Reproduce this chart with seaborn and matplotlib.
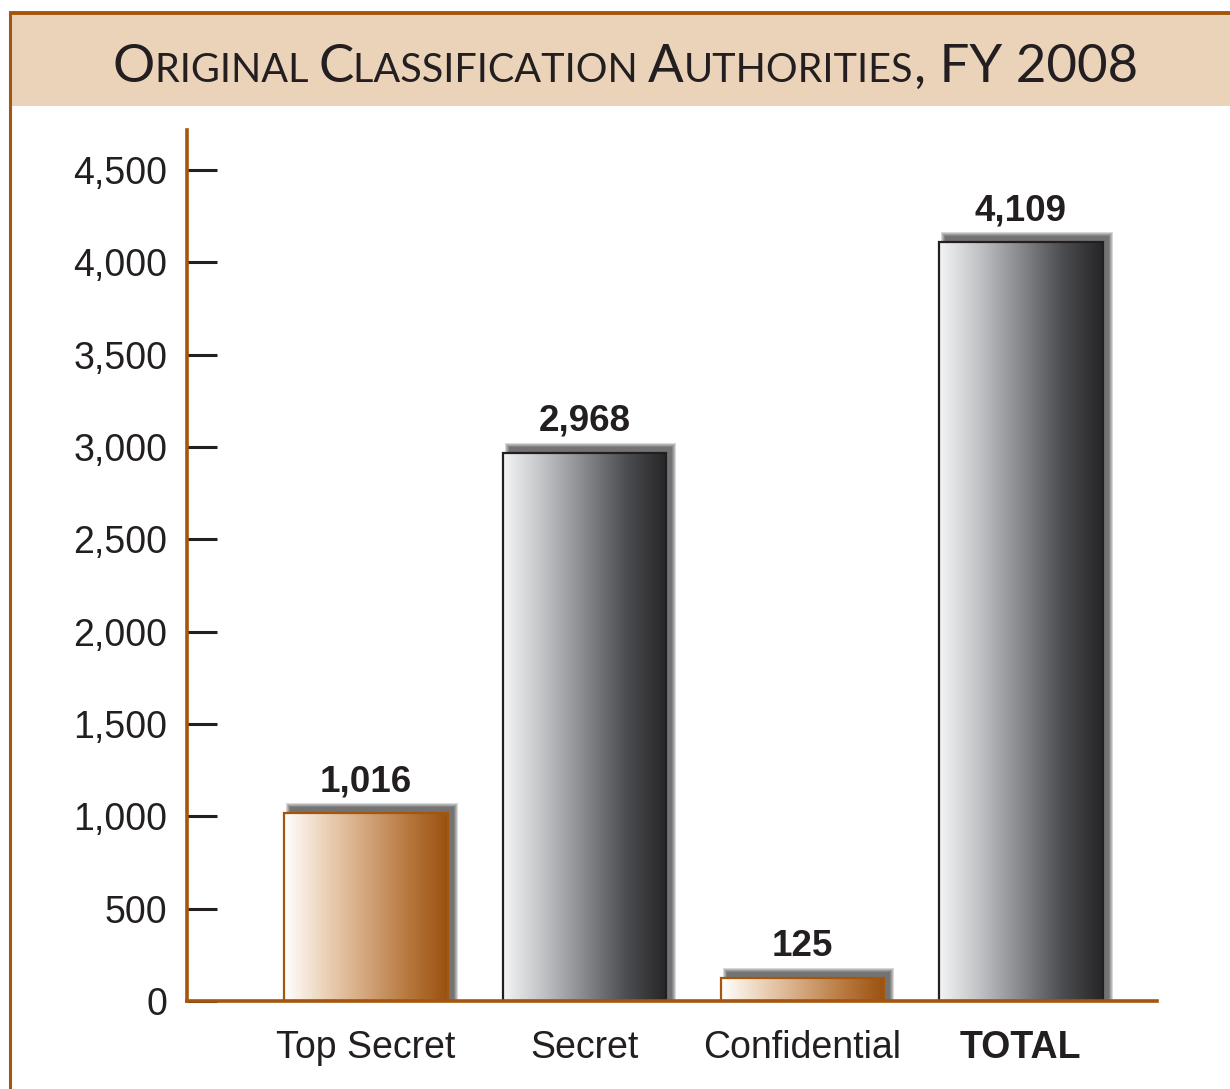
import numpy as np
import pandas as pd
import matplotlib
matplotlib.use("Agg")
import matplotlib.pyplot as plt
import seaborn as sns
from matplotlib.colors import LinearSegmentedColormap
from matplotlib.patches import Rectangle
from matplotlib.lines import Line2D
from matplotlib.offsetbox import TextArea, HPacker, AnchoredOffsetbox
import matplotlib.transforms as mtrans

# ---- data ----
categories = ["Top Secret", "Secret", "Confidential", "TOTAL"]
values = [1016, 2968, 125, 4109]
value_labels = ["1,016", "2,968", "125", "4,109"]
bar_styles = ["brown", "gray", "brown", "gray"]
ytick_values = [0, 500, 1000, 1500, 2000, 2500, 3000, 3500, 4000, 4500]
ytick_labels = ["0", "500", "1,000", "1,500", "2,000", "2,500", "3,000", "3,500", "4,000", "4,500"]
title_parts = [("O", "big"), ("RIGINAL ", "small"), ("C", "big"), ("LASSIFICATION ", "small"),
               ("A", "big"), ("UTHORITIES", "small"), (", FY 2008", "big")]

BROWN = "#A3560C"
PEACH = "#EBD3BA"
TEXT = "#231F20"

sns.set_theme(style="white")
plt.rcParams['font.family'] = ['Liberation Sans', 'DejaVu Sans']

fig = plt.figure(figsize=(12.3, 10.89), dpi=100)
fig.patch.set_facecolor("white")

# frame + banner
W, H = 1230, 1089
def fx(px): return px / W
def fy(py): return 1 - py / H
fig.add_artist(Rectangle((fx(11), fy(106)), fx(1230) - fx(11), fy(14) - fy(106),
                         transform=fig.transFigure, facecolor=PEACH, edgecolor="none", zorder=0))
fig.add_artist(Line2D([fx(10), fx(10)], [fy(12), fy(1089)], transform=fig.transFigure,
                      color=BROWN, lw=2.2, solid_capstyle="butt"))
fig.add_artist(Line2D([fx(9), fx(1230)], [fy(12.5), fy(12.5)], transform=fig.transFigure,
                      color=BROWN, lw=2.8, solid_capstyle="butt"))

# title in small caps
boxes = []
for txt, kind in title_parts:
    size = 38 if kind == "big" else 28.5
    boxes.append(TextArea(txt, textprops=dict(fontsize=size, color=TEXT,
                                              family=['Lato', 'DejaVu Sans'])))
pack = HPacker(children=boxes, align="baseline", pad=0, sep=0)
ab = AnchoredOffsetbox(loc="center", child=pack, frameon=False,
                       bbox_to_anchor=(fx(625), fy(67)), bbox_transform=fig.transFigure, pad=0, borderpad=0)
fig.add_artist(ab)

# axes
ax = fig.add_axes([fx(187), fy(1001), fx(1157) - fx(187), fy(130) - fy(1001)])
ax.set_facecolor("none")
df = pd.DataFrame({"category": categories, "value": values})
sns.barplot(data=df, x="category", y="value", ax=ax, width=0.75, color="white",
            saturation=1, linewidth=0, zorder=3)
ax.set_xlim(-0.821, 3.624)
ax.set_ylim(0, 4716)

cmaps = {
    "brown": LinearSegmentedColormap.from_list("b", ["#FFFFFF", "#EBD2B8", "#D3A57C", "#B8793F", "#9A5110"]),
    "gray": LinearSegmentedColormap.from_list("g", ["#F3F4F5", "#BFC1C4", "#86888C", "#4D4E51", "#262527"]),
}
edges = {"brown": BROWN, "gray": TEXT}
grad = np.linspace(0, 1, 256).reshape(1, -1)

fig.canvas.draw()
for patch, style in zip(ax.patches, bar_styles):
    x0, y0 = patch.get_x(), patch.get_y()
    w, h = patch.get_width(), patch.get_height()
    # shadow (pseudo-blur) in pixel space, derived from the bar
    (px0, py0) = ax.transData.transform((x0, y0))
    (px1, py1) = ax.transData.transform((x0 + w, y0 + h))
    for k in range(5):
        inf = 4 - k
        ax.add_patch(Rectangle((px0 + 6 - inf, py0 - 20), (px1 - px0) + 2 * inf, (py1 - py0) + 26 + inf,
                               transform=mtrans.IdentityTransform(), facecolor="#111111",
                               edgecolor="none", alpha=0.16, zorder=2, clip_on=True,
                               clip_box=ax.bbox))
    patch.set_facecolor("none")
    patch.set_edgecolor(edges[style])
    patch.set_linewidth(1.6)
    patch.set_zorder(5)
    im = ax.imshow(grad, cmap=cmaps[style], extent=(x0, x0 + w, y0, y0 + h),
                   aspect="auto", zorder=4, interpolation="bilinear")
    im.set_clip_path(patch)
ax.set_xlim(-0.821, 3.624)
ax.set_ylim(0, 4716)

ax.bar_label(ax.containers[0], labels=value_labels, padding=10, fontsize=26.5,
             fontweight="bold", color=TEXT, zorder=6)

# axes styling
for s in ["top", "right"]:
    ax.spines[s].set_visible(False)
for s in ["left", "bottom"]:
    ax.spines[s].set_color(BROWN)
    ax.spines[s].set_linewidth(2.6)
    ax.spines[s].set_zorder(7)
ax.set_yticks(ytick_values, ytick_labels)
ax.tick_params(axis="y", direction="in", length=21.5, width=2.2, color=TEXT, pad=14,
               labelsize=27, labelcolor=TEXT, left=True)
ax.tick_params(axis="x", length=0, pad=21, labelsize=27, labelcolor=TEXT)
ax.set_xlabel("")
ax.set_ylabel("")
ax.grid(False)
for lbl in ax.get_xticklabels():
    if lbl.get_text() == "TOTAL":
        lbl.set_fontweight("bold")

fig.savefig("out.png", dpi=100)
